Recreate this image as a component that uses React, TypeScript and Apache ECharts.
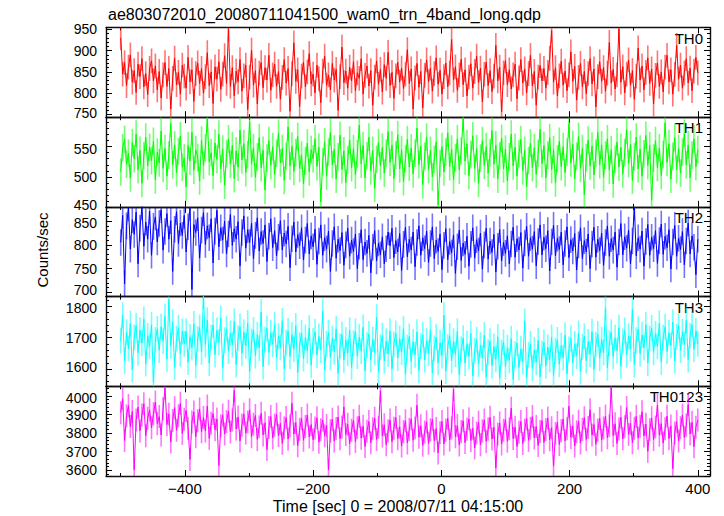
import React, { useEffect, useRef } from 'react';
import * as echarts from 'echarts';

const TITLE = 'ae803072010_20080711041500_wam0_trn_4band_long.qdp';
const X_LABEL = 'Time [sec] 0 = 2008/07/11 04:15:00';
const Y_LABEL = 'Counts/sec';
const TIME_START = -500;
const TIME_STEP = 3;
const BAND_NAMES = ['TH0', 'TH1', 'TH2', 'TH3', 'TH0123'];

const TH0 = [
  930, 845, 872, 818, 861, 890, 826, 853, 802, 868, 839, 881, 815, 846, 797, 858, 876, 829, 864, 808,
  851, 789, 843, 872, 816, 858, 763, 835, 882, 820, 849, 798, 866, 840, 812, 884, 827, 855, 781, 846,
  871, 823, 858, 800, 839, 895, 818, 850, 776, 862, 833, 874, 809, 845, 888, 823, 951, 816, 860, 794,
  852, 827, 879, 805, 841, 866, 762, 838, 901, 819, 853, 775, 847, 872, 813, 860, 831, 889, 807, 843,
  868, 816, 851, 786, 837, 879, 824, 858, 758, 846, 918, 828, 855, 769, 840, 873, 815, 850, 893, 822,
  845, 801, 866, 834, 778, 852, 887, 819, 843, 808, 870, 831, 856, 760, 839, 908, 825, 852, 812, 861,
  829, 874, 806, 848, 835, 881, 798, 842, 864, 817, 853, 772, 838, 876, 821, 856, 803, 867, 835, 896,
  818, 849, 788, 841, 873, 826, 859, 811, 845, 902, 823, 857, 763, 836, 870, 814, 851, 766, 842, 878,
  827, 859, 805, 846, 883, 821, 854, 798, 839, 871, 815, 848, 926, 831, 862, 807, 843, 880, 820, 855,
  794, 838, 869, 812, 851, 887, 825, 859, 780, 844, 873, 818, 853, 804, 840, 912, 829, 861, 757, 848,
  876, 820, 855, 810, 843, 868, 787, 836, 879, 824, 857, 801, 846, 889, 817, 851, 772, 838, 865, 829,
  858, 812, 849, 882, 947, 826, 860, 794, 841, 875, 819, 852, 806, 843, 897, 828, 863, 784, 837, 870,
  815, 851, 799, 846, 881, 822, 857, 768, 839, 874, 828, 860, 805, 847, 919, 824, 856, 810, 843, 951,
  826, 862, 801, 845, 878, 819, 853, 786, 840, 906, 831, 864, 808, 849, 883, 823, 857, 775, 842, 871,
  816, 850, 803, 861, 889, 827, 855, 798, 844, 912, 833, 866, 812, 848, 881, 824, 859, 806, 852, 884,
  848,
];

const TH1 = [
  508, 548, 562, 521, 539, 498, 557, 530, 571, 512, 544, 489, 535, 566, 518, 549, 527, 559, 495, 541,
  523, 576, 514, 547, 501, 536, 589, 520, 553, 507, 542, 568, 516, 531, 483, 552, 526, 574, 511, 545,
  532, 493, 561, 519, 548, 597, 525, 540, 502, 556, 529, 571, 513, 546, 486, 538, 563, 521, 552, 497,
  543, 516, 578, 528, 555, 507, 537, 592, 522, 548, 499, 533, 565, 515, 544, 478, 531, 560, 519, 550,
  504, 539, 572, 523, 547, 494, 534, 583, 518, 551, 509, 540, 567, 514, 536, 488, 527, 556, 508, 545,
  530, 563, 517, 549, 458, 525, 558, 501, 541, 574, 520, 546, 496, 533, 569, 512, 543, 490, 528, 561,
  515, 547, 503, 538, 586, 521, 552, 498, 535, 566, 510, 544, 481, 529, 557, 518, 549, 506, 539, 575,
  524, 553, 497, 536, 570, 513, 545, 492, 530, 562, 516, 548, 505, 539, 581, 520, 551, 487, 534, 566,
  512, 544, 500, 529, 558, 453, 522, 550, 508, 541, 573, 517, 546, 495, 532, 563, 511, 543, 598, 526,
  555, 502, 537, 568, 514, 547, 489, 531, 560, 519, 550, 506, 540, 577, 521, 553, 496, 535, 564, 513,
  546, 493, 533, 571, 518, 549, 501, 538, 562, 510, 544, 484, 527, 556, 515, 548, 504, 539, 579, 522,
  552, 498, 536, 565, 512, 545, 490, 530, 559, 517, 550, 507, 541, 588, 523, 554, 497, 534, 567, 514,
  547, 470, 532, 561, 518, 551, 503, 539, 574, 520, 553, 499, 536, 563, 511, 545, 488, 529, 558, 516,
  549, 505, 540, 578, 522, 554, 494, 533, 566, 513, 546, 501, 538, 569, 519, 552, 461, 531, 560, 515,
  548, 502, 537, 590, 524, 555, 496, 534, 565, 512, 547, 506, 541, 572, 520, 553, 498, 536, 563, 517,
  545,
];

const TH2 = [
  805, 862, 718, 840, 878, 791, 853, 822, 869, 760, 835, 881, 797, 848, 812, 871, 778, 839, 859, 806,
  845, 874, 789, 828, 866, 812, 851, 744, 833, 870, 803, 846, 820, 862, 785, 838, 879, 706, 843, 826,
  857, 772, 831, 868, 801, 840, 815, 855, 762, 829, 873, 796, 836, 810, 850, 781, 823, 864, 799, 834,
  812, 849, 756, 826, 861, 793, 832, 805, 846, 771, 820, 857, 787, 828, 803, 842, 765, 818, 855, 794,
  830, 777, 816, 851, 789, 825, 802, 839, 752, 813, 848, 785, 822, 798, 836, 768, 810, 845, 781, 819,
  796, 833, 759, 808, 842, 778, 815, 791, 829, 744, 803, 838, 772, 812, 788, 826, 757, 800, 835, 776,
  810, 786, 823, 750, 797, 832, 769, 806, 782, 820, 741, 795, 830, 766, 804, 779, 817, 760, 792, 827,
  798, 835, 773, 809, 785, 824, 746, 801, 837, 775, 812, 789, 827, 754, 805, 840, 778, 815, 792, 829,
  763, 803, 838, 771, 810, 786, 823, 748, 799, 834, 769, 807, 783, 821, 740, 796, 831, 767, 804, 780,
  818, 755, 801, 836, 772, 811, 787, 825, 749, 800, 835, 770, 808, 784, 822, 743, 797, 832, 766, 805,
  782, 819, 760, 802, 837, 774, 813, 789, 826, 751, 804, 839, 776, 815, 791, 828, 756, 807, 842, 779,
  816, 792, 830, 745, 806, 841, 777, 814, 790, 827, 758, 803, 838, 773, 811, 787, 824, 747, 800, 836,
  771, 809, 785, 823, 750, 802, 837, 774, 812, 788, 825, 757, 805, 840, 776, 813, 789, 827, 753, 806,
  845, 779, 817, 793, 831, 760, 808, 880, 777, 815, 791, 829, 755, 807, 843, 778, 816, 792, 830, 761,
  809, 844, 780, 818, 794, 832, 749, 806, 841, 776, 814, 790, 828, 758, 808, 846, 781, 819, 795, 737,
  812,
];

const TH3 = [
  1690, 1772, 1625, 1718, 1665, 1745, 1598, 1701, 1738, 1652, 1724, 1683, 1759, 1617, 1706, 1672, 1741, 1556, 1693, 1728,
  1660, 1735, 1689, 1768, 1631, 1822, 1675, 1750, 1606, 1697, 1731, 1648, 1720, 1680, 1720, 1622, 1703, 1668, 1744, 1611,
  1696, 1733, 1655, 1832, 1678, 1756, 1619, 1700, 1740, 1646, 1723, 1685, 1762, 1603, 1692, 1729, 1657, 1714, 1677, 1752,
  1614, 1699, 1736, 1650, 1718, 1674, 1747, 1592, 1688, 1725, 1643, 1710, 1667, 1782, 1608, 1694, 1730, 1653, 1716, 1679,
  1742, 1636, 1705, 1669, 1754, 1601, 1684, 1722, 1640, 1709, 1663, 1738, 1589, 1676, 1715, 1633, 1701, 1658, 1731, 1612,
  1690, 1719, 1645, 1704, 1660, 1784, 1597, 1680, 1716, 1637, 1698, 1655, 1728, 1586, 1672, 1711, 1629, 1693, 1651, 1724,
  1605, 1683, 1720, 1641, 1702, 1657, 1733, 1594, 1676, 1712, 1630, 1695, 1652, 1766, 1590, 1670, 1707, 1626, 1689, 1648,
  1721, 1600, 1679, 1714, 1635, 1697, 1654, 1729, 1583, 1668, 1704, 1624, 1687, 1645, 1718, 1596, 1673, 1709, 1629, 1691,
  1650, 1725, 1588, 1666, 1702, 1621, 1684, 1643, 1772, 1593, 1671, 1706, 1627, 1689, 1647, 1720, 1582, 1663, 1699, 1619,
  1681, 1640, 1713, 1578, 1659, 1694, 1616, 1676, 1635, 1708, 1574, 1655, 1689, 1611, 1672, 1631, 1703, 1570, 1652, 1686,
  1608, 1668, 1628, 1697, 1567, 1648, 1683, 1605, 1664, 1624, 1752, 1571, 1645, 1680, 1602, 1661, 1621, 1691, 1575, 1650,
  1685, 1610, 1670, 1630, 1701, 1580, 1658, 1693, 1615, 1675, 1636, 1708, 1585, 1663, 1698, 1620, 1680, 1641, 1714, 1592,
  1671, 1705, 1627, 1687, 1647, 1719, 1598, 1678, 1712, 1634, 1694, 1653, 1797, 1604, 1683, 1718, 1640, 1700, 1659, 1732,
  1609, 1688, 1723, 1645, 1705, 1664, 1790, 1614, 1692, 1727, 1649, 1709, 1668, 1741, 1619, 1697, 1731, 1653, 1713, 1672,
  1746, 1622, 1700, 1735, 1656, 1716, 1675, 1750, 1626, 1703, 1738, 1660, 1719, 1678, 1755, 1630, 1706, 1741, 1663, 1722,
  1680,
];

const TH0123 = [
  3910, 3985, 3760, 3892, 3948, 3835, 3916, 3603, 3870, 3940, 3812, 3897, 3958, 3786, 3880, 3925, 3829, 3904, 3967, 3851,
  3889, 3790, 3931, 4042, 3846, 3902, 3752, 3868, 3937, 3815, 3894, 3960, 3798, 3875, 3922, 3826, 3658, 3860, 3914, 3780,
  3867, 3930, 3808, 3884, 3812, 3946, 3772, 3853, 3905, 3818, 3876, 3626, 3840, 3898, 3795, 3862, 3918, 3806, 3871, 4030,
  3822, 3887, 3758, 3844, 3903, 3800, 3860, 3926, 3781, 3848, 3895, 3766, 3834, 3907, 3790, 3855, 3712, 3830, 3889, 3774,
  3843, 3901, 3787, 3852, 3745, 3829, 3884, 3768, 3838, 3960, 3795, 3857, 3732, 3821, 3879, 3761, 3836, 3898, 3779, 3846,
  3764, 3827, 3882, 3751, 3818, 3870, 3786, 3841, 3601, 3812, 3875, 3757, 3825, 3887, 3770, 3833, 3941, 3792, 3848, 3743,
  3815, 3868, 3755, 3829, 3891, 3773, 3837, 3728, 3810, 3862, 3748, 3823, 3880, 3766, 3831, 4028, 3784, 3845, 3738, 3812,
  3870, 3754, 3826, 3884, 3769, 3834, 3730, 3808, 3866, 3747, 3820, 3877, 3762, 3828, 3950, 3778, 3839, 3734, 3806, 3861,
  3745, 3818, 3874, 3759, 3825, 3693, 3802, 3863, 3741, 3816, 3880, 3763, 3827, 4035, 3781, 3841, 3736, 3808, 3866, 3749,
  3821, 3877, 3760, 3826, 3720, 3800, 3859, 3738, 3812, 3871, 3755, 3822, 3885, 3768, 3831, 3612, 3795, 3854, 3742, 3815,
  3873, 3756, 3823, 3934, 3771, 3832, 3728, 3804, 3862, 3744, 3817, 3878, 3761, 3826, 3889, 3774, 3836, 3733, 3809, 3867,
  3750, 3819, 3881, 3764, 3829, 3622, 3798, 3857, 3739, 3813, 3876, 3758, 3824, 3945, 3777, 3838, 3731, 3807, 3864, 3747,
  3820, 3883, 3766, 3830, 3926, 3790, 3846, 3740, 3816, 3879, 3762, 3828, 3892, 3775, 3839, 4048, 3787, 3850, 3744, 3822,
  3886, 3769, 3834, 3938, 3793, 3853, 3748, 3826, 3890, 3773, 3837, 3915, 3785, 3848, 3702, 3818, 3882, 3765, 3833, 3951,
  3789, 3851, 3746, 3824, 3892, 3770, 3838, 3609, 3801, 3862, 3757, 3829, 3897, 3776, 3843, 3954, 3795, 3858, 3727, 3832,
  3870,
];

// Half-length of the error bar of each band (counts/sec).
const ERRORS = [29, 23, 28, 41, 62];

const SERIES_VALUES = [TH0, TH1, TH2, TH3, TH0123];
const COLORS = ['#ff0000', '#00ff00', '#0000ff', '#00ffff', '#ff00ff'];
const Y_MIN = [744, 450, 691, 1545, 3569];
const Y_MAX = [954, 599, 880, 1831, 4052];
const Y_STEP = [50, 50, 50, 100, 100];
const X_MIN = -523;
const X_MAX = 419;
const X_STEP = 200;

const FONT = 'Liberation Sans, Arial, Helvetica, sans-serif';
const PLOT_LEFT = 106;
const PLOT_RIGHT = 710;
const PLOT_TOP = 27.5;
const PANEL_H = 89.7;

export default function App() {
  const ref = useRef<HTMLDivElement>(null);
  useEffect(() => {
    if (!ref.current) return;
    const chart = echarts.init(ref.current, null, { renderer: 'svg' });
    const grids: any[] = [];
    const xAxes: any[] = [];
    const yAxes: any[] = [];
    const series: any[] = [];
    const graphics: any[] = [];
    const n = BAND_NAMES.length;
    for (let k = 0; k < n; k++) {
      const top = PLOT_TOP + k * PANEL_H;
      grids.push({ left: PLOT_LEFT, width: PLOT_RIGHT - PLOT_LEFT, top, height: PANEL_H, containLabel: false });
      const isLast = k === n - 1;
      ['bottom', 'top'].forEach((pos) => {
        xAxes.push({
          type: 'value',
          gridIndex: k,
          position: pos,
          min: X_MIN,
          max: X_MAX,
          minInterval: X_STEP,
          maxInterval: X_STEP,
          axisLine: { show: true, onZero: false, lineStyle: { color: '#111', width: 1.4 } },
          axisTick: { show: true, inside: true, length: 6, lineStyle: { color: '#000', width: 1 } },
          minorTick: { show: true, splitNumber: 2, length: 3, lineStyle: { color: '#000', width: 1 } },
          splitLine: { show: false },
          axisLabel: {
            show: isLast && pos === 'bottom',
            color: '#000',
            fontFamily: FONT,
            fontSize: 15,
            margin: 5,
            formatter: (v: number) => (v % X_STEP === 0 ? String(v).replace('-', '\u2212') : ''),
          },
        });
      });
      const step = Y_STEP[k];
      const lowest = Math.ceil(Y_MIN[k] / step) * step;
      const highest = Math.floor(Y_MAX[k] / step) * step;
      ['left', 'right'].forEach((pos) => {
        yAxes.push({
          type: 'value',
          gridIndex: k,
          position: pos,
          min: Y_MIN[k],
          max: Y_MAX[k],
          minInterval: step,
          maxInterval: step,
          axisLine: { show: true, onZero: false, lineStyle: { color: '#111', width: 1.4 } },
          axisTick: { show: true, inside: true, length: 6, lineStyle: { color: '#000', width: 1 } },
          minorTick: { show: true, splitNumber: 5, length: 3, lineStyle: { color: '#000', width: 1 } },
          splitLine: { show: false },
          axisLabel: {
            show: pos === 'left',
            color: '#000',
            fontFamily: FONT,
            fontSize: 14,
            lineHeight: 13,
            margin: 9,
            rich: {
              up: { fontSize: 14, fontFamily: FONT, color: '#000', lineHeight: 13, padding: [0, 0, 4, 0] },
              down: { fontSize: 14, fontFamily: FONT, color: '#000', lineHeight: 13, padding: [4, 0, 0, 0] },
            },
            formatter: (v: number) => {
              if (v % step !== 0) return '';
              if (k < n - 1 && v === lowest) return `{up|${v}}`;
              if (k > 0 && v === highest) return `{down|${v}}`;
              return String(v);
            },
          },
        });
      });
      const values = SERIES_VALUES[k];
      const points = values.map((v, i) => [TIME_START + i * TIME_STEP, v]);
      const err = ERRORS[k];
      const color = COLORS[k];
      series.push({
        type: 'custom',
        xAxisIndex: 2 * k,
        yAxisIndex: 2 * k,
        data: points,
        clip: true,
        silent: true,
        renderItem: (_params: any, api: any) => {
          const x = api.value(0);
          const y = api.value(1);
          const p1 = api.coord([x, y - err]);
          const p2 = api.coord([x, y + err]);
          return {
            type: 'line',
            shape: { x1: p1[0], y1: p1[1], x2: p2[0], y2: p2[1] },
            style: { stroke: color, lineWidth: 1.6, opacity: 0.55 },
          };
        },
      });
      series.push({
        type: 'line',
        xAxisIndex: 2 * k,
        yAxisIndex: 2 * k,
        data: points,
        symbol: 'none',
        lineStyle: { color, width: 1 },
        itemStyle: { color },
        clip: true,
        silent: true,
      });
      graphics.push({
        type: 'text',
        right: 724 - 703,
        top: top + 3,
        style: { text: BAND_NAMES[k], fill: '#000', font: `15px ${FONT}` },
      });
    }
    graphics.push({
      type: 'text',
      x: 108,
      y: 14,
      style: { text: TITLE, fill: '#000', font: `16px ${FONT}`, textVerticalAlign: 'middle' },
    });
    graphics.push({
      type: 'text',
      x: 398,
      y: 506,
      style: { text: X_LABEL, fill: '#000', font: `16px ${FONT}`, textAlign: 'center', textVerticalAlign: 'middle' },
    });
    graphics.push({
      type: 'text',
      x: 42,
      y: 250,
      rotation: Math.PI / 2,
      style: { text: Y_LABEL, fill: '#000', font: `15px ${FONT}`, textAlign: 'center', textVerticalAlign: 'middle' },
    });
    chart.setOption({
      animation: false,
      backgroundColor: '#fff',
      grid: grids,
      xAxis: xAxes,
      yAxis: yAxes,
      series,
      graphic: graphics,
    });
    return () => chart.dispose();
  }, []);
  return <div ref={ref} style={{ position: 'fixed', left: 0, top: 0, width: 724, height: 516 }} />;
}
